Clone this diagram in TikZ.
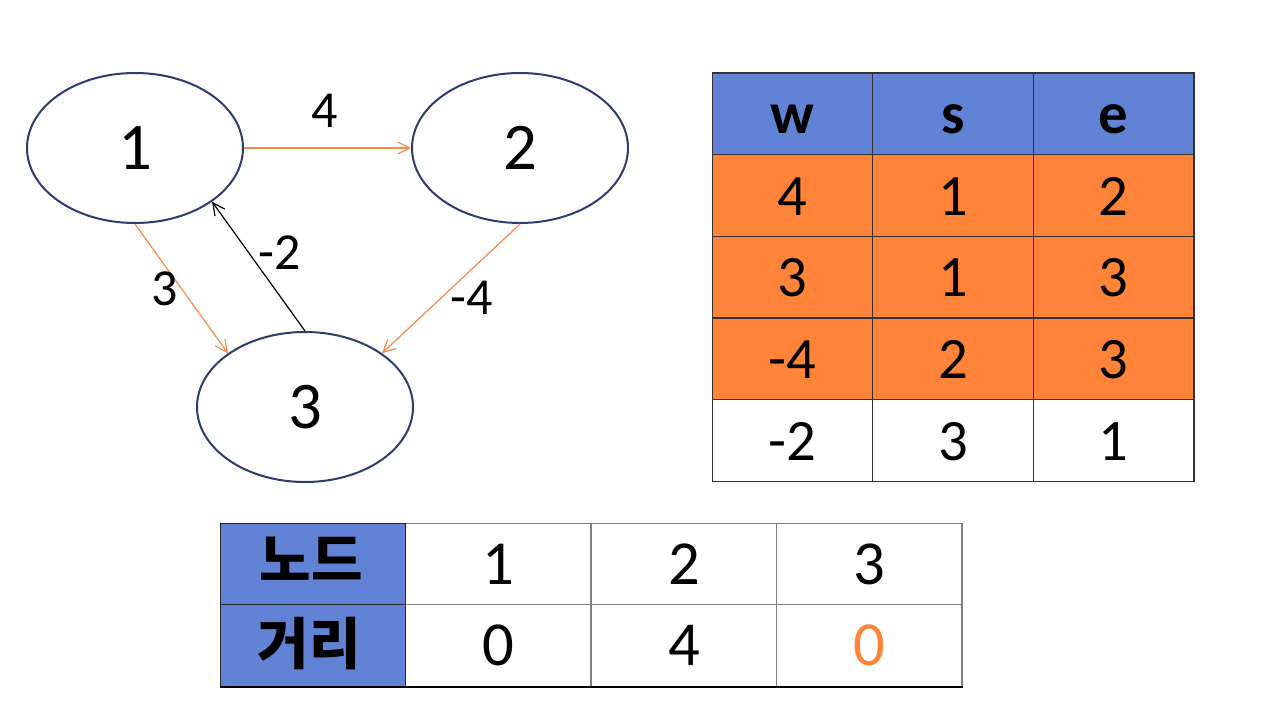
\documentclass[tikz,border=0pt]{standalone}
\usepackage{fontspec}
\setmainfont{Carlito}
\newfontfamily\krfont{Noto Sans CJK KR}
\usetikzlibrary{shapes.geometric,arrows.meta}
\definecolor{hdrblue}{RGB}{98,130,214}
\definecolor{cellorange}{RGB}{255,132,58}
\definecolor{edgeorange}{RGB}{244,137,74}
\definecolor{ellnavy}{RGB}{46,61,107}
\newcommand\myfs[1]{\fontsize{#1}{#1}\selectfont}
\begin{document}
\begin{tikzpicture}[x=0.75pt,y=-0.75pt,
  vert/.style={ellipse, draw=ellnavy, line width=1.5pt, minimum width=162pt, minimum height=112.5pt, inner sep=0pt, font=\myfs{50pt}},
  oedge/.style={draw=edgeorange, line width=0.9pt, -{Straight Barb[length=9pt,width=9pt]}},
  bedge/.style={draw=black, line width=0.9pt, -{Straight Barb[length=9pt,width=9pt]}},
  elabel/.style={anchor=base, inner sep=0pt, font=\myfs{39pt}},
  tcell/.style={rectangle, draw=black!80, line width=1pt, minimum width=120.5pt, minimum height=61.3pt, inner sep=0pt, text height=29.25pt, text depth=0pt, font=\myfs{44pt}},
  thead/.style={tcell, fill=hdrblue, font=\myfs{44pt}\bfseries},
  tor/.style={tcell, fill=cellorange},
  tw/.style={tcell, fill=white},
  bcell/.style={rectangle, draw=gray, line width=1pt, minimum width=139.1pt, minimum height=61.1pt, inner sep=0pt, text height=30pt, text depth=0pt, font=\myfs{47pt}},
  bhead/.style={rectangle, draw=black!85, fill=hdrblue, line width=1pt, minimum width=139.1pt, minimum height=61.1pt, inner sep=0pt},
  krtext/.style={inner sep=0pt, font=\krfont\bfseries\myfs{42pt}}
]
\fill[white] (0,0) rectangle (1280,720);
\useasboundingbox (0,0) rectangle (1280,720);

% graph
\node[vert] (n1) at (135,148) {1};
\node[vert] (n2) at (520,148) {2};
\node[vert] (n3) at (305,407) {3};

\draw[oedge] (n1.east) -- (n2.west);
\draw[oedge] (n1.south) -- (n3.north west);
\draw[oedge] (n2.south) -- (n3.north east);
\draw[bedge] (n3.north) -- (n1.south east);

\node[elabel] (l4) at (325,128) {4};
\node[elabel] (l3) at (164.5,305) {3};
\node[elabel] (lm2) at (279.5,269) {-2};
\node[elabel] (lm4) at (472,314) {-4};

% edge table
\node[thead] (hw) at (792.5,113.85) {w};
\node[thead] (hs) at (953,113.85) {s};
\node[thead] (he) at (1113.5,113.85) {e};

\node[tor] (a1) at (792.5,195.55) {4};
\node[tor] (a2) at (953,195.55) {1};
\node[tor] (a3) at (1113.5,195.55) {2};

\node[tor] (b1) at (792.5,277.25) {3};
\node[tor] (b2) at (953,277.25) {1};
\node[tor] (b3) at (1113.5,277.25) {3};

\node[tor] (c1) at (792.5,358.95) {-4};
\node[tor] (c2) at (953,358.95) {2};
\node[tor] (c3) at (1113.5,358.95) {3};

\node[tw] (d1) at (792.5,440.65) {-2};
\node[tw] (d2) at (953,440.65) {3};
\node[tw] (d3) at (1113.5,440.65) {1};

% distance table
\node[bcell] (p1) at (498.4,564) {1};
\node[bcell] (p2) at (683.9,564) {2};
\node[bcell] (p3) at (869.4,564) {3};
\node[bcell] (q1) at (498.4,645.5) {0};
\node[bcell] (q2) at (683.9,645.5) {4};
\node[bcell, text=cellorange] (q3) at (869.4,645.5) {0};
\node[bhead] (hn) at (312.9,564) {};
\node[bhead] (hd) at (312.9,645.5) {};
\draw[black, line width=1pt] (hd.south west) -- (q3.south east);
\node[krtext] (kn) at (311.5,559) {노드};
\node[krtext] (kd) at (309,643.5) {거리};
\end{tikzpicture}
\end{document}
